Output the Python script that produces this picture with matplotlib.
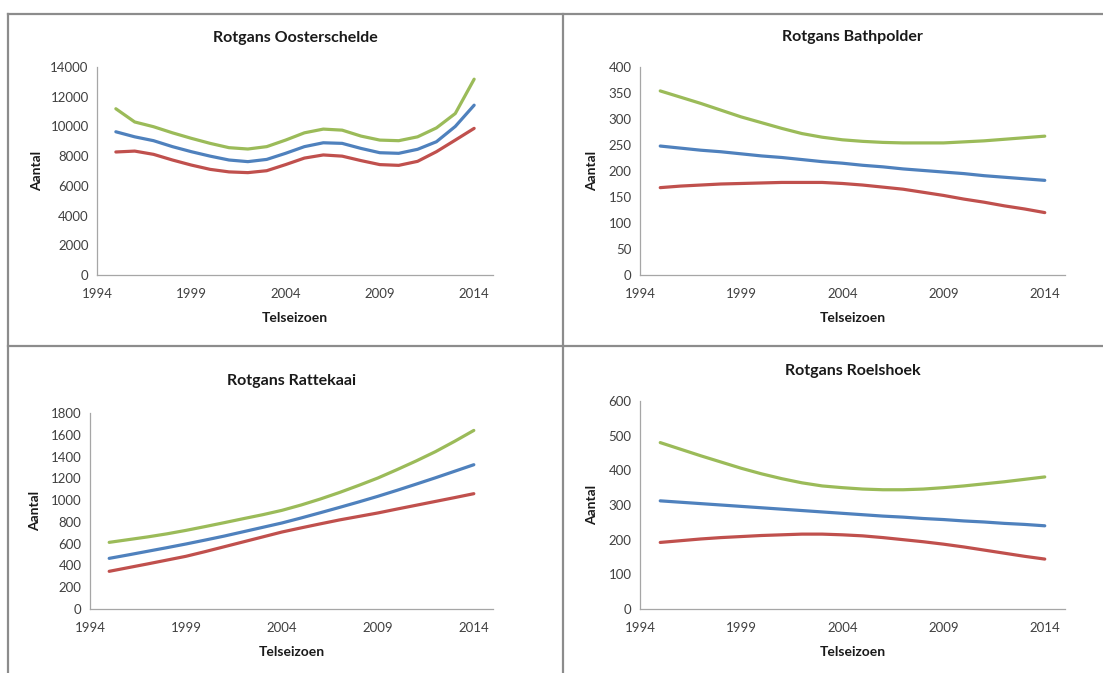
import matplotlib
matplotlib.use("Agg")
from matplotlib import pyplot as plt
from matplotlib.lines import Line2D
import numpy as np

plt.rcParams['font.family'] = ['Lato', 'DejaVu Sans']

# Data
years = list(range(1995, 2015))

oost_blue = [9640, 9300, 9040, 8640, 8300, 8000, 7740, 7630, 7780, 8190,
             8640, 8900, 8860, 8520, 8230, 8190, 8460, 8970, 10000, 11430]
oost_red = [8280, 8340, 8120, 7740, 7400, 7110, 6940, 6890, 7020, 7430,
            7870, 8080, 8000, 7700, 7430, 7380, 7650, 8300, 9080, 9870]
oost_green = [11190, 10300, 9980, 9570, 9200, 8860, 8570, 8480, 8640, 9080,
              9570, 9820, 9750, 9350, 9080, 9040, 9300, 9900, 10870, 13180]

bath_blue = [248, 244, 240, 237, 233, 229, 226, 222, 218, 215,
             211, 208, 204, 201, 198, 195, 191, 188, 185, 182]
bath_red = [168, 171, 173, 175, 176, 177, 178, 178, 178, 176,
            173, 169, 165, 159, 153, 146, 140, 133, 127, 120]
bath_green = [354, 342, 330, 317, 304, 293, 282, 272, 265, 260,
              257, 255, 254, 254, 254, 256, 258, 261, 264, 267]

ratt_blue = [465, 497, 530, 563, 597, 633, 670, 710, 750, 790,
             836, 884, 933, 983, 1035, 1090, 1147, 1205, 1265, 1325]
ratt_red = [346, 380, 414, 449, 484, 527, 572, 617, 662, 707,
            745, 782, 818, 850, 882, 918, 953, 988, 1023, 1059]
ratt_green = [612, 637, 662, 690, 722, 757, 793, 830, 866, 906,
              955, 1010, 1070, 1135, 1203, 1280, 1360, 1445, 1540, 1640]

roel_blue = [312, 308, 304, 300, 296, 292, 288, 284, 280, 276,
             272, 268, 265, 261, 258, 254, 251, 247, 244, 240]
roel_red = [192, 197, 202, 206, 209, 212, 214, 216, 216, 214,
            211, 206, 200, 194, 187, 179, 170, 161, 152, 144]
roel_green = [480, 461, 442, 424, 406, 390, 376, 364, 355, 350,
              346, 344, 344, 346, 350, 355, 361, 367, 374, 381]

titles = ["Rotgans Oosterschelde", "Rotgans Bathpolder",
          "Rotgans Rattekaai", "Rotgans Roelshoek"]
ymax = [14000, 400, 1800, 600]
ystep = [2000, 50, 200, 100]
xticks = [1994, 1999, 2004, 2009, 2014]

BLUE = '#4F81BD'
RED = '#C0504D'
GREEN = '#9BBB59'

W, H = 1103, 673
fig = plt.figure(figsize=(W / 100, H / 100), dpi=100)

# axes boxes in pixels: left, right, top, bottom
boxes = [(97, 493, 67, 275), (640, 1065, 67, 275),
         (90, 493, 413, 609), (640, 1065, 401, 609)]
title_y = [38, 37, 381, 371]
xlabel_y = [318, 318, 652, 652]
ylabel_x = [37, 592, 35, 592]

series = [(oost_blue, oost_red, oost_green),
          (bath_blue, bath_red, bath_green),
          (ratt_blue, ratt_red, ratt_green),
          (roel_blue, roel_red, roel_green)]

for i, (l, r, t, b) in enumerate(boxes):
    ax = fig.add_axes([l / W, 1 - b / H, (r - l) / W, (b - t) / H])
    blue, red, green = series[i]
    ax.plot(years, blue, color=BLUE, lw=2.3, solid_capstyle='round')
    ax.plot(years, red, color=RED, lw=2.3, solid_capstyle='round')
    ax.plot(years, green, color=GREEN, lw=2.3, solid_capstyle='round')
    ax.set_xlim(1994, 2015)
    ax.set_ylim(0, ymax[i])
    ax.set_yticks(np.arange(0, ymax[i] + 1, ystep[i]))
    ax.set_xticks(xticks)
    for s in ['top', 'right']:
        ax.spines[s].set_visible(False)
    for s in ['left', 'bottom']:
        ax.spines[s].set_color('#A6A6A6')
        ax.spines[s].set_linewidth(0.9)
    ax.tick_params(length=0, labelsize=9.5, colors='#404040', pad=9)
    ax.tick_params(axis='y', pad=6)

    cx = (l + r) / 2
    fig.text(cx / W, 1 - title_y[i] / H, titles[i], ha='center', va='center',
             fontsize=11.5, fontweight='bold', color='#1a1a1a')
    fig.text(cx / W, 1 - xlabel_y[i] / H, "Telseizoen", ha='center', va='center',
             fontsize=10, fontweight='bold', color='#1a1a1a')
    fig.text(ylabel_x[i] / W, 1 - (t + b) / 2 / H, "Aantal", ha='center',
             va='center', rotation=90, fontsize=10, fontweight='bold',
             color='#1a1a1a')

# panel borders
bc = '#8C8C8C'
fig.add_artist(Line2D([8 / W, 1], [1 - 13.5 / H] * 2, color=bc, lw=1.6))
fig.add_artist(Line2D([8 / W] * 2, [0, 1 - 13.5 / H], color=bc, lw=1.6))
fig.add_artist(Line2D([562.5 / W] * 2, [0, 1 - 13.5 / H], color=bc, lw=1.6))
fig.add_artist(Line2D([8 / W, 1], [1 - 346.5 / H] * 2, color=bc, lw=1.6))

fig.savefig('out.png', dpi=100)
